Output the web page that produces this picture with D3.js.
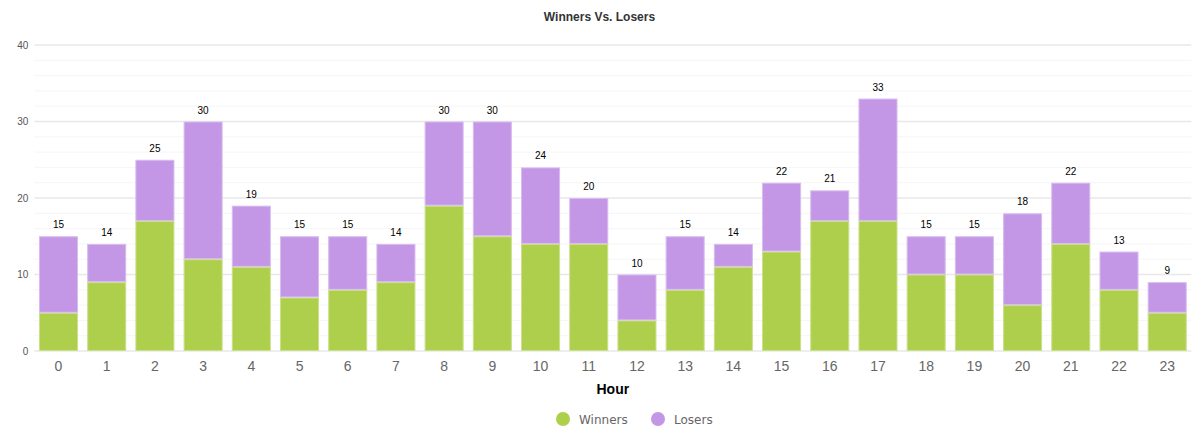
<!DOCTYPE html>
<html>
<head>
<meta charset="utf-8">
<script src="https://cdn.jsdelivr.net/npm/d3@7"></script>
<style>
  body { margin: 0; background: #fff; }
  svg { font-family: "Liberation Sans", Arial, sans-serif; }
</style>
</head>
<body>
<script>
const hours = ["0","1","2","3","4","5","6","7","8","9","10","11","12","13","14","15","16","17","18","19","20","21","22","23"];
const winners = [5,9,17,12,11,7,8,9,19,15,14,14,4,8,11,13,17,17,10,10,6,14,8,5];
const losers = [10,5,8,18,8,8,7,5,11,15,10,6,6,7,3,9,4,16,5,5,12,8,5,4];
const yTicks = [0,10,20,30,40];
const seriesNames = ["Winners","Losers"];
const colors = ["#aecf4c","#c397e6"];

const W = 1199, H = 443;
const plotLeft = 34.4, plotRight = 1191.3, plotTop = 45, plotBottom = 351;

const svg = d3.select("body").append("svg")
  .attr("width", W).attr("height", H);

const x = d3.scaleBand().domain(hours).range([plotLeft, plotRight]).paddingInner(0.19).paddingOuter(0.095);
const y = d3.scaleLinear().domain([0, 40]).range([plotBottom, plotTop]);

// minor grid
svg.append("g").selectAll("line")
  .data(d3.range(0, 41, 2).filter(v => v % 10 !== 0))
  .join("line")
  .attr("x1", plotLeft).attr("x2", plotRight)
  .attr("y1", d => y(d)).attr("y2", d => y(d))
  .attr("stroke", "#f5f5f5").attr("stroke-width", 1);

// major grid
svg.append("g").selectAll("line")
  .data(yTicks)
  .join("line")
  .attr("x1", plotLeft).attr("x2", plotRight)
  .attr("y1", d => y(d)).attr("y2", d => y(d))
  .attr("stroke", "#e8e8e8").attr("stroke-width", 1.5);

// y axis labels
const yAxis = svg.append("g")
  .attr("transform", `translate(${plotLeft - 6},0)`)
  .call(d3.axisLeft(y).tickValues(yTicks).tickSize(0).tickPadding(0));
yAxis.select(".domain").remove();
yAxis.selectAll("text").attr("font-size", 10).attr("fill", "#555")
  .attr("font-family", "Liberation Sans, Arial, sans-serif");

// x axis labels
const xAxis = svg.append("g")
  .attr("transform", `translate(0,${plotBottom + 10})`)
  .call(d3.axisBottom(x).tickSize(0).tickPadding(0));
xAxis.select(".domain").remove();
xAxis.selectAll("text").attr("font-size", 14).attr("fill", "#666")
  .attr("font-family", "Liberation Sans, Arial, sans-serif");

// stacked bars
const rows = hours.map((h, i) => ({hour: h, Winners: winners[i], Losers: losers[i]}));
const stack = d3.stack().keys(seriesNames)(rows);

svg.append("g").selectAll("g")
  .data(stack)
  .join("g")
  .attr("fill", (d, i) => colors[i])
  .attr("stroke", (d, i) => d3.interpolateRgb(colors[i], "#fff")(0.35))
  .selectAll("rect")
  .data(d => d)
  .join("rect")
  .attr("x", d => x(d.data.hour) + 0.5)
  .attr("y", d => y(d[1]) + 0.5)
  .attr("width", x.bandwidth() - 1)
  .attr("height", d => y(d[0]) - y(d[1]) - 1)
  .attr("stroke-width", 1);

// totals
svg.append("g").selectAll("text")
  .data(rows)
  .join("text")
  .attr("x", d => x(d.hour) + x.bandwidth() / 2)
  .attr("y", d => y(d.Winners + d.Losers) - 8)
  .attr("text-anchor", "middle")
  .attr("font-size", 10)
  .attr("fill", "#000")
  .text(d => d.Winners + d.Losers);

// title
svg.append("text")
  .attr("x", W / 2).attr("y", 21)
  .attr("text-anchor", "middle")
  .attr("font-size", 12).attr("font-weight", "bold").attr("fill", "#333")
  .text("Winners Vs. Losers");

// x title
svg.append("text")
  .attr("x", (plotLeft + plotRight) / 2).attr("y", 394)
  .attr("text-anchor", "middle")
  .attr("font-size", 14).attr("font-weight", "bold").attr("fill", "#000")
  .text("Hour");

// legend
const legendX = [563, 658];
const lg = svg.append("g").selectAll("g")
  .data(seriesNames)
  .join("g")
  .attr("transform", (d, i) => `translate(${legendX[i]},419)`);
lg.append("circle").attr("r", 7).attr("fill", (d, i) => colors[i]);
lg.append("text")
  .attr("x", 16).attr("y", 4.5)
  .attr("font-size", 12).attr("fill", "#666")
  .attr("font-family", "DejaVu Sans, sans-serif")
  .text(d => d);
</script>
</body>
</html>
